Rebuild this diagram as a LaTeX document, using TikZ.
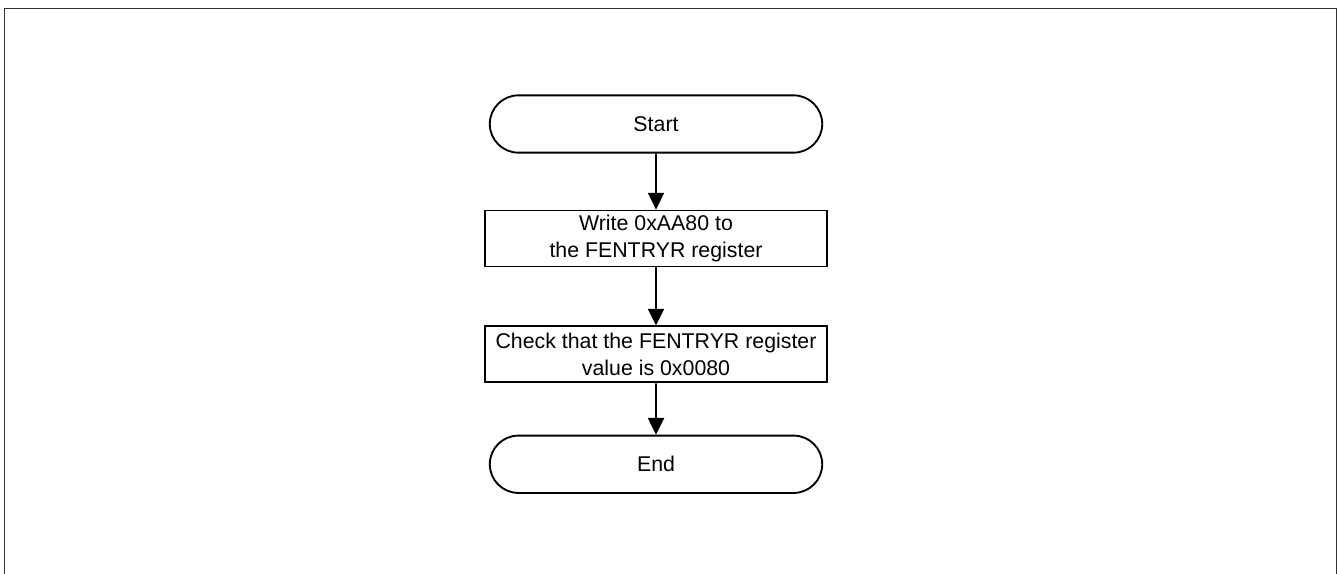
\documentclass[tikz,border=0pt]{standalone}
\usepackage{fontspec}
\setmainfont{Liberation Sans}
\usepackage{tikz}
\usetikzlibrary{arrows.meta,positioning,shapes.misc}
\tikzset{
  fc/terminal/.style={draw, rounded rectangle, line width=1.4pt, minimum width=256pt, minimum height=43pt, align=center, font=\fontsize{16}{20}\selectfont},
  fc/process/.style={draw, rectangle, line width=1.4pt, minimum width=256pt, minimum height=42pt, inner ysep=0pt, align=center, font=\fontsize{16}{20}\selectfont},
  fc/arr/.style={line width=1.4pt, -{Triangle[length=12.5pt,width=12pt]}},
  frameline/.style={line width=1.3pt, draw=black!80}
}

\begin{document}
\begin{tikzpicture}[x=0.75pt, y=-0.75pt]
  \useasboundingbox (0,0) rectangle (1341,574);
  \draw[frameline] (4.5,574) -- (4.5,8.5) -- (1336.5,8.5) -- (1336.5,574);

  \node[fc/terminal] (start) at (656,124) {Start};
  \node[fc/process, below=42pt of start] (writereg) {Write 0xAA80 to\\the FENTRYR register};
  \node[fc/process, below=43.5pt of writereg] (checkreg) {Check that the FENTRYR register\\value is 0x0080};
  \node[fc/terminal, below=38.5pt of checkreg] (stop) {End};

  \draw[fc/arr] (start) -- (writereg);
  \draw[fc/arr] (writereg) -- (checkreg);
  \draw[fc/arr] (checkreg) -- (stop);
\end{tikzpicture}
\end{document}
